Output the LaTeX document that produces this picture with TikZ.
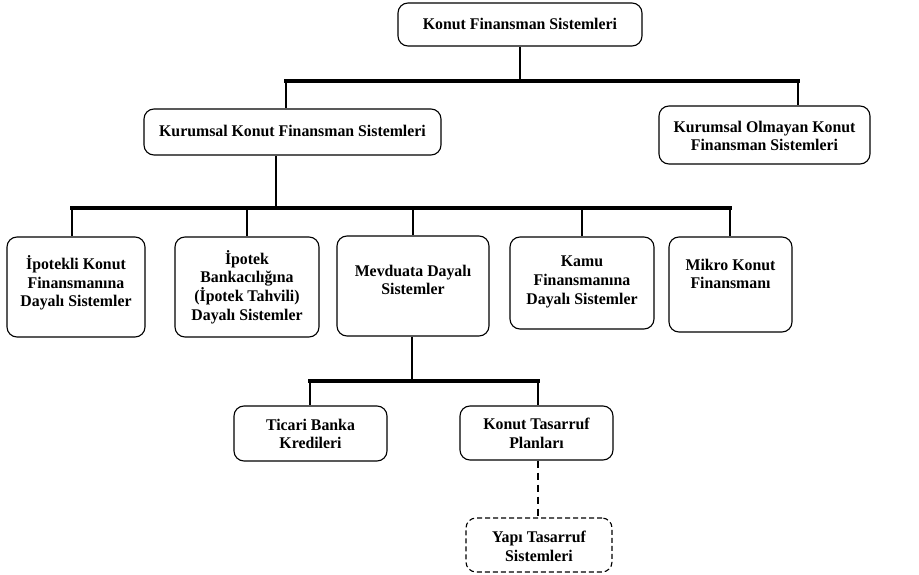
\documentclass[tikz,border=0pt]{standalone}
\usepackage{fontspec}
\setmainfont{Liberation Serif}[FakeStretch=0.97]
\begin{document}
\begin{tikzpicture}[x=1pt,y=-1pt,
  box/.style={draw, rounded corners=10pt, line width=1.1pt, inner sep=0pt},
  dbox/.style={box, dash pattern=on 5pt off 3pt},
  lbl/.style={align=center, font=\bfseries\fontsize{16.3}{18.7}\selectfont, inner sep=0pt},
  link/.style={line width=2pt},
  bus/.style={line width=3.2pt, line cap=rect},
  dlink/.style={line width=1.8pt, dash pattern=on 7pt off 5pt}]
\useasboundingbox (0,0) rectangle (919,575);
% boxes
\node[box, minimum width=244pt, minimum height=43pt] (top) at (520,24.5) {};
\node[box, minimum width=297pt, minimum height=46pt] (kk) at (292.5,132) {};
\node[box, minimum width=211pt, minimum height=58pt] (kok) at (764.5,135) {};
\node[box, minimum width=138pt, minimum height=100pt] (ipk) at (76,287) {};
\node[box, minimum width=144pt, minimum height=100pt] (ipb) at (247,287) {};
\node[box, minimum width=152pt, minimum height=100pt] (mev) at (413,286) {};
\node[box, minimum width=144pt, minimum height=92pt] (kamu) at (582,283) {};
\node[box, minimum width=123pt, minimum height=95pt] (mikro) at (730.5,284.5) {};
\node[box, minimum width=153pt, minimum height=55pt] (tic) at (310.5,433.5) {};
\node[box, minimum width=153pt, minimum height=54pt] (kts) at (536.5,433) {};
\node[dbox, minimum width=146pt, minimum height=54pt] (yapi) at (539,545) {};
% labels
\node[lbl] (ttop) at (520,24) {Konut Finansman Sistemleri};
\node[lbl] (tkk) at (292.5,131) {Kurumsal Konut Finansman Sistemleri};
\node[lbl] (tkok) at (764.5,136) {Kurumsal Olmayan Konut\\Finansman Sistemleri};
\node[lbl] (tipk) at (76,283) {İpotekli Konut\\Finansmanına\\Dayalı Sistemler};
\node[lbl] (tipb) at (247,287) {İpotek\\Bankacılığına\\(İpotek Tahvili)\\Dayalı Sistemler};
\node[lbl] (tmev) at (413,280) {Mevduata Dayalı\\Sistemler};
\node[lbl] (tkamu) at (582,282) {Kamu\\Finansmanına\\Dayalı Sistemler};
\node[lbl] (tmikro) at (730.5,274) {Mikro Konut\\Finansmanı};
\node[lbl] (ttic) at (310.5,434) {Ticari Banka\\Kredileri};
\node[lbl] (tkts) at (536.5,433) {Konut Tasarruf\\Planları};
\node[lbl] (tyapi) at (539,546) {Yapı Tasarruf\\Sistemleri};
% level 1 connectors
\coordinate (b1) at (520,81);
\coordinate (b1l) at (286,81);
\coordinate (b1r) at (798,81);
\draw[link] (top.south) -- (b1);
\draw[link] (b1l) -- (b1l |- kk.north);
\draw[link] (b1r) -- (b1r |- kok.north);
\draw[bus] (b1l) -- (b1r);
% level 2 connectors
\coordinate (b2) at (276,208);
\coordinate (d1) at (72,208);
\coordinate (d2) at (247,208);
\coordinate (d3) at (413,208);
\coordinate (d4) at (582,208);
\coordinate (d5) at (730,208);
\draw[link] (b2 |- kk.south) -- (b2);
\draw[link] (d1) -- (d1 |- ipk.north);
\draw[link] (d2) -- (d2 |- ipb.north);
\draw[link] (d3) -- (d3 |- mev.north);
\draw[link] (d4) -- (d4 |- kamu.north);
\draw[link] (d5) -- (d5 |- mikro.north);
\draw[bus] (d1) -- (d5);
% level 3 connectors
\coordinate (b3) at (412,381);
\coordinate (d6) at (310,381);
\coordinate (d7) at (538,381);
\draw[link] (b3 |- mev.south) -- (b3);
\draw[link] (d6) -- (d6 |- tic.north);
\draw[link] (d7) -- (d7 |- kts.north);
\draw[bus] (d6) -- (d7);
% dashed connector
\draw[dlink] (d7 |- kts.south) -- (d7 |- yapi.north);
\end{tikzpicture}
\end{document}
